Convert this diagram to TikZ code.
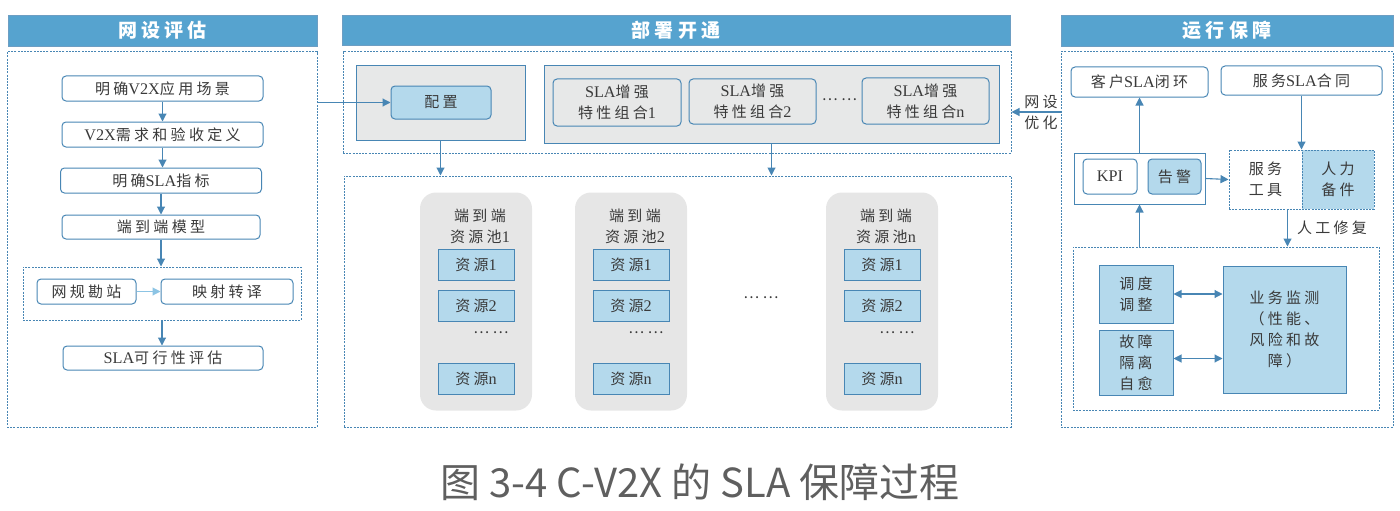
\documentclass[tikz,border=0pt]{standalone}
\usepackage{fontspec}
\newfontfamily\cjk{Noto Sans CJK SC}[LetterSpace=22]
\newfontfamily\latfont{Liberation Serif}[Scale=1.08]
\newfontfamily\capfont{Noto Sans CJK SC}
\usetikzlibrary{arrows.meta}
\definecolor{hdrblue}{RGB}{86,163,207}
\definecolor{lnblue}{RGB}{72,134,180}
\definecolor{ltblue}{RGB}{180,217,236}
\definecolor{ltarr}{RGB}{140,196,228}
\definecolor{boxgray}{RGB}{231,232,232}
\definecolor{poolgray}{RGB}{230,230,230}
\definecolor{txt}{RGB}{58,58,58}
\definecolor{capgray}{RGB}{95,95,95}
\newcommand\bodyfont{\cjk\fontsize{15}{21}\selectfont}
\newcommand\la[1]{{\latfont #1}}

\tikzset{
  hdr/.style={fill=hdrblue, draw=lnblue!80, line width=0.6pt, text=white, inner sep=0pt,
    font=\cjk\bfseries\fontsize{19}{22}\selectfont},
  panel/.style={draw=lnblue, dash pattern=on 2pt off 1.2pt, line width=1pt, inner sep=0pt},
  label/.style={text=txt, inner sep=0pt, align=center, font=\bodyfont},
  wbox/.style={label, draw=lnblue, fill=white, rounded corners=4pt, line width=1pt},
  bbox/.style={wbox, fill=ltblue},
  sbox/.style={label, draw=lnblue, fill=ltblue, line width=1pt},
  gbox/.style={draw=lnblue, fill=boxgray, line width=1pt, inner sep=0pt},
  pool/.style={fill=poolgray, rounded corners=16pt, minimum width=112, minimum height=218, inner sep=0pt},
  res/.style={sbox, minimum width=76, minimum height=31},
  arr/.style={draw=lnblue, line width=1.1pt, -{Triangle[length=8pt,width=8pt]}},
  darr/.style={arr, {Triangle[length=8pt,width=8pt]}-{Triangle[length=8pt,width=8pt]}},
}

\begin{document}
\begin{tikzpicture}[x=1pt,y=-1pt]
\useasboundingbox (0,0) rectangle (1400,511);
% 网设评估
\node[hdr, minimum width=309, minimum height=31] (hA) at (162.5,30.5) {网设评估};
\node[panel, minimum width=310, minimum height=375] (pA) at (162,239.5) {};
\node[wbox, minimum width=201, minimum height=25] (a1) at (162.5,88.5) {明确\la{V2X}应用场景};
\node[wbox, minimum width=201, minimum height=25] (a2) at (162.5,134.5) {\la{V2X}需求和验收定义};
\node[wbox, minimum width=201, minimum height=25] (a3) at (161,180.5) {明确\la{SLA}指标};
\node[wbox, minimum width=198, minimum height=24] (a4) at (161,227) {端到端模型};
\node[panel, minimum width=278, minimum height=53] (gA) at (162,293.5) {};
\node[wbox, minimum width=99, minimum height=25] (a5) at (86.5,291.5) {网规勘站};
\node[wbox, minimum width=132, minimum height=25] (a6) at (227,291.5) {映射转译};
\node[wbox, minimum width=200, minimum height=24] (a7) at (163,358) {\la{SLA}可行性评估};
\draw[arr] (a1.south) -- (a1.south |- a2.north);
\draw[arr] (a2.south) -- (a2.south |- a3.north);
\draw[arr] (a3.south) -- (a3.south |- a4.north);
\draw[arr] (a4.south) -- (a4.south |- gA.north);
\draw[arr, draw=ltarr] (a5) -- (a6);
\draw[arr] (gA.south) -- (gA.south |- a7.north);
% 部署开通
\node[hdr, minimum width=668, minimum height=30] (hB) at (676,30) {部署开通};
\node[panel, minimum width=668, minimum height=101] (pB1) at (677,102.5) {};
\node[gbox, minimum width=169, minimum height=74] (gC) at (440.5,103) {};
\node[bbox, minimum width=100, minimum height=33] (cfg) at (441,102.5) {配置};
\node[gbox, minimum width=455, minimum height=77] (gS) at (771.5,104.5) {};
\node[wbox, fill=boxgray, minimum width=128, minimum height=47] (s1) at (617,102.5) {\la{SLA}增强\\特性组合\la{1}};
\node[wbox, fill=boxgray, minimum width=127, minimum height=45] (s2) at (752.5,101.5) {\la{SLA}增强\\特性组合\la{2}};
\node[label] (sdots) at (839.5,100) {……};
\node[wbox, fill=boxgray, minimum width=127, minimum height=46] (sn) at (925.5,101) {\la{SLA}增强\\特性组合\la{n}};
\node[panel, minimum width=667, minimum height=251] (pB2) at (677.5,301.5) {};
\draw[arr] (pA.east |- cfg) -- (cfg.west);
\draw[arr] (gC.south) -- (gC.south |- pB2.north);
\draw[arr] (gS.south) -- (gS.south |- pB2.north);
% 资源池
\foreach \i/\cx in {1/476, 2/631, n/882} {
  \node[pool] (pool\i) at (\cx,301.5) {};
  \node[label] (pt\i) at (\cx+4,226) {端到端\\资源池\la{\i}};
  \node[res] (r\i-1) at (\cx,264.5) {资源\la{1}};
  \node[res] (r\i-2) at (\cx,305.5) {资源\la{2}};
  \node[label] (rd\i) at (\cx+15,333) {……};
  \node[res] (r\i-n) at (\cx,378.5) {资源\la{n}};
}
\node[label] (pdots) at (761,298) {……};
% 运行保障
\node[hdr, minimum width=332, minimum height=31] (hC) at (1227,30.5) {运行保障};
\node[panel, minimum width=332, minimum height=375] (pC) at (1227,239.5) {};
\node[wbox, minimum width=137, minimum height=30] (c1) at (1139.5,82) {客户\la{SLA}闭环};
\node[wbox, minimum width=161, minimum height=29] (c2) at (1301.5,80.5) {服务\la{SLA}合同};
\node[draw=lnblue, line width=1pt, fill=white, minimum width=131, minimum height=51] (kb) at (1139.5,178.5) {};
\node[wbox, minimum width=54, minimum height=35] (kpi) at (1110,176.5) {\la{KPI}};
\node[bbox, minimum width=53, minimum height=35] (alm) at (1174.5,176.5) {告警};
\node[label, panel, minimum width=73, minimum height=59] (svc) at (1265.5,179.5) {服务\\工具};
\node[label, panel, fill=ltblue, minimum width=72, minimum height=59] (hr) at (1338,179.5) {人力\\备件};
\node[panel, minimum width=306, minimum height=163] (gR) at (1226,328.5) {};
\node[sbox, minimum width=74, minimum height=58] (sch) at (1136,294) {调度\\调整};
\node[sbox, minimum width=74, minimum height=65] (flt) at (1136,362.5) {故障\\隔离\\自愈};
\node[sbox, minimum width=123, minimum height=127] (mon) at (1284.5,329.5) {业务监测\\（性能、\\风险和故\\障）};
\draw[arr] (kb.north) -- (kb.north |- c1.south);
\draw[arr] (c2.south) -- (c2.south |- svc.north);
\draw[arr] (kb.south |- gR.north) -- (kb.south);
\draw[arr] (kb.east) -- (svc.west);
\draw[arr] ([xshift=-15pt]svc.south east) coordinate (fix) -- (fix |- gR.north)
  node[label, midway, right=9pt] {人工修复};
\draw[darr] (sch.east) -- (sch.east -| mon.west);
\draw[darr] ([yshift=4pt]flt.east) -- ([yshift=4pt]flt.east -| mon.west);
% 网设优化
\node[label] (opt) at (1041,112) {网设\\优化};
\draw[arr] (pC.west |- opt) -- (pB1.east |- opt);
% 图题
\node[font=\capfont\fontsize{40}{44}\selectfont, text=capgray] (cap) at (700,482) {图 3-4 C-V2X 的 SLA 保障过程};
\end{tikzpicture}
\end{document}
